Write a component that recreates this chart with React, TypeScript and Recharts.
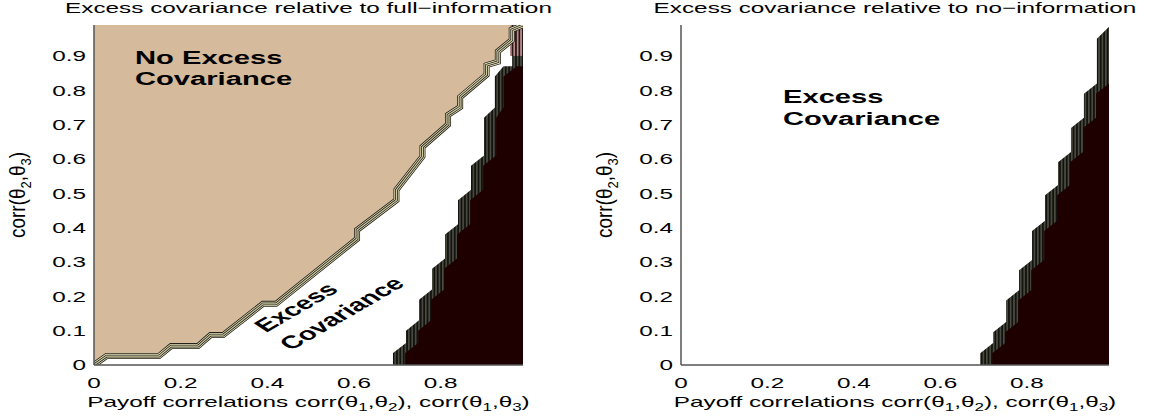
import React from 'react';
import { ComposedChart, Area, Line, XAxis, YAxis } from 'recharts';

const SX = 1.62;
const FONT = '"Liberation Sans", Arial, Helvetica, sans-serif';

const X_TICKS = [0, 0.2, 0.4, 0.6, 0.8];
const Y_TICKS = [0, 0.1, 0.2, 0.3, 0.4, 0.5, 0.6, 0.7, 0.8, 0.9];
const DOMAIN: [number, number] = [0, 0.99];

const TITLE_FULL = 'Excess covariance relative to full\u2212information';
const TITLE_NO = 'Excess covariance relative to no\u2212information';

// No-excess (tan) region spans the plot; the white excess region lies below its boundary
const TAN_TOP = [[0, 0.99], [0.99, 0.99]];
const FULL_BOUNDARY = [
  [0, 0], [0.029, 0.026], [0.15, 0.026], [0.178, 0.055], [0.24, 0.055], [0.269, 0.087],
  [0.298, 0.087], [0.39, 0.178], [0.42, 0.178], [0.607, 0.367], [0.607, 0.393],
  [0.698, 0.48], [0.698, 0.51], [0.758, 0.607], [0.758, 0.635], [0.817, 0.7],
  [0.817, 0.728], [0.845, 0.751], [0.845, 0.78], [0.906, 0.845], [0.906, 0.873],
  [0.932, 0.883], [0.932, 0.913], [0.964, 0.946], [0.964, 0.976], [0.99, 0.99],
];
const FULL_DARK_OUTER = [
  [0.69, 0], [0.69, 0.035], [0.72, 0.064], [0.72, 0.1], [0.75, 0.13], [0.75, 0.19],
  [0.78, 0.22], [0.78, 0.28], [0.81, 0.31], [0.81, 0.38], [0.84, 0.41], [0.84, 0.48],
  [0.87, 0.51], [0.87, 0.58], [0.9, 0.61], [0.9, 0.72], [0.925, 0.75], [0.925, 0.84],
  [0.945, 0.87], [0.965, 0.87], [0.965, 0.99], [0.99, 0.99],
];
const FULL_DARK_INNER = [
  [0.718, 0], [0.718, 0.035], [0.748, 0.064], [0.748, 0.1], [0.778, 0.13], [0.778, 0.19],
  [0.808, 0.22], [0.808, 0.28], [0.838, 0.31], [0.838, 0.38], [0.868, 0.41], [0.868, 0.48],
  [0.898, 0.51], [0.898, 0.58], [0.928, 0.61], [0.928, 0.72], [0.945, 0.75], [0.945, 0.84],
  [0.976, 0.87], [0.99, 0.87],
];
const FULL_PINK = [[0.96, 0.9, 0.99], [0.99, 0.9, 0.99]];

const NO_DARK_OUTER = [
  [0.692, 0], [0.692, 0.034], [0.722, 0.064], [0.722, 0.095], [0.752, 0.125], [0.752, 0.188],
  [0.782, 0.218], [0.782, 0.276], [0.812, 0.306], [0.812, 0.39], [0.842, 0.42], [0.842, 0.494],
  [0.872, 0.524], [0.872, 0.59], [0.902, 0.62], [0.902, 0.69], [0.932, 0.72], [0.932, 0.79],
  [0.962, 0.82], [0.962, 0.95], [0.99, 0.985],
];
const NO_DARK_INNER = [
  [0.72, 0], [0.72, 0.034], [0.75, 0.064], [0.75, 0.095], [0.78, 0.125], [0.78, 0.188],
  [0.81, 0.218], [0.81, 0.276], [0.84, 0.306], [0.84, 0.39], [0.87, 0.42], [0.87, 0.494],
  [0.9, 0.524], [0.9, 0.59], [0.93, 0.62], [0.93, 0.69], [0.96, 0.72], [0.96, 0.79],
  [0.99, 0.82],
];

const TAN = '#d5ba9b';
const MAROON = '#1f0000';
const AXIS = '#555555';

const rows = (pts: number[][]) => pts.map(([x, y]) => ({ x, y }));
const rangeRows = (pts: number[][]) => pts.map(([x, lo, hi]) => ({ x, y: [lo, hi] }));

const fmt = (v: number) => (v === 0 ? '0' : v.toFixed(1));

const XTick = (p: any) => (
  <g transform={`translate(${p.x},${p.y}) scale(${SX},1)`}>
    <text x={0} y={0} dy="0.71em" textAnchor="middle" fontSize={15} fontFamily={FONT} fill="#000">
      {fmt(p.payload.value)}
    </text>
  </g>
);
const YTick = (p: any) => (
  <g transform={`translate(${p.x},${p.y}) scale(${SX},1)`}>
    <text x={0} y={0} dy="0.36em" textAnchor="end" fontSize={15} fontFamily={FONT} fill="#000">
      {fmt(p.payload.value)}
    </text>
  </g>
);

const axisLine = { stroke: AXIS, strokeWidth: 1.5 };

const XLabel = ({ cx }: { cx: number }) => (
  <text transform={`translate(${cx},407) scale(${SX},1)`} textAnchor="middle" fontSize={15} fontFamily={FONT} fill="#000">
    <tspan>Payoff correlations corr(θ</tspan>
    <tspan fontSize={10.5} dy={4}>1</tspan>
    <tspan dy={-4}>,θ</tspan>
    <tspan fontSize={10.5} dy={4}>2</tspan>
    <tspan dy={-4}>), corr(θ</tspan>
    <tspan fontSize={10.5} dy={4}>1</tspan>
    <tspan dy={-4}>,θ</tspan>
    <tspan fontSize={10.5} dy={4}>3</tspan>
    <tspan dy={-4}>)</tspan>
  </text>
);

const YLabel = ({ x }: { x: number }) => (
  <text transform={`translate(${x},195) scale(1.15,1) rotate(-90)`} textAnchor="middle" fontSize={19} fontFamily={FONT} fill="#000">
    <tspan>corr(θ</tspan>
    <tspan fontSize={13} dy={5}>2</tspan>
    <tspan dy={-5}>,θ</tspan>
    <tspan fontSize={13} dy={5}>3</tspan>
    <tspan dy={-5}>)</tspan>
  </text>
);

const BoldText = ({ x, y, rot = 0, children }: any) => (
  <text
    transform={`translate(${x},${y}) scale(${SX},1) rotate(${rot})`}
    fontSize={18}
    fontWeight="bold"
    fontFamily={FONT}
    fill="#000"
  >
    {children}
  </text>
);

export default function App() {
  const tanTop = rows(TAN_TOP);
  const fullBoundary = rows(FULL_BOUNDARY);
  const fullOuter = rows(FULL_DARK_OUTER);
  const fullInner = rows(FULL_DARK_INNER);
  const fullPink = rangeRows(FULL_PINK);
  const noOuter = rows(NO_DARK_OUTER);
  const noInner = rows(NO_DARK_INNER);

  return (
    <div style={{ position: 'absolute', left: 0, top: 0, width: 1156, height: 417, background: '#fff', overflow: 'hidden' }}>
      <svg width={1156} height={417} style={{ position: 'absolute', left: 0, top: 0 }}>
        <defs>
          <pattern id="darkBand" patternUnits="userSpaceOnUse" width="3.4" height="8">
            <rect width="3.4" height="8" fill="#121210" />
            <rect width="1.6" height="8" fill="#4c4c40" />
          </pattern>
          <pattern id="pinkBand" patternUnits="userSpaceOnUse" width="3.4" height="8">
            <rect width="3.4" height="8" fill="#2a1515" />
            <rect width="1.7" height="8" fill="#b68e8e" />
          </pattern>
        </defs>
      </svg>

      <div style={{ position: 'absolute', left: 0, top: 0 }}>
        <ComposedChart width={578} height={417} margin={{ top: 25, right: 55, bottom: 0, left: 0 }}>
          <Area data={tanTop} dataKey="y" type="linear" fill={TAN} fillOpacity={1} stroke="none" isAnimationActive={false} />
          <Area data={fullBoundary} dataKey="y" type="linear" fill="#ffffff" fillOpacity={1} stroke="none" isAnimationActive={false} />
          <Line data={fullBoundary} dataKey="y" type="linear" stroke="#23231c" strokeWidth={6} dot={false} isAnimationActive={false} />
          <Line data={fullBoundary} dataKey="y" type="linear" stroke="#ece7c0" strokeWidth={4.4} dot={false} isAnimationActive={false} />
          <Line data={fullBoundary} dataKey="y" type="linear" stroke="#23231c" strokeWidth={2.8} dot={false} isAnimationActive={false} />
          <Line data={fullBoundary} dataKey="y" type="linear" stroke="#cfc9a0" strokeWidth={1.2} dot={false} isAnimationActive={false} />
          <Area data={fullOuter} dataKey="y" type="linear" fill="url(#darkBand)" fillOpacity={1} stroke="none" isAnimationActive={false} />
          <Area data={fullInner} dataKey="y" type="linear" fill={MAROON} fillOpacity={1} stroke="none" isAnimationActive={false} />
          <Area data={fullPink} dataKey="y" type="linear" fill="url(#pinkBand)" fillOpacity={1} stroke="none" isAnimationActive={false} />
          <XAxis type="number" dataKey="x" domain={DOMAIN} ticks={X_TICKS} tick={XTick} tickLine={false} tickSize={0} tickMargin={12} height={52} axisLine={axisLine} allowDataOverflow />
          <YAxis type="number" domain={DOMAIN} ticks={Y_TICKS} tick={YTick} tickLine={false} tickSize={0} tickMargin={8} width={94} axisLine={axisLine} allowDataOverflow />
          <XAxis xAxisId="top" orientation="top" type="number" dataKey="x" domain={DOMAIN} tick={false} tickLine={false} height={0} axisLine={axisLine} allowDataOverflow />
          <YAxis yAxisId="right" orientation="right" type="number" domain={DOMAIN} tick={false} tickLine={false} width={0} axisLine={axisLine} allowDataOverflow />
        </ComposedChart>
      </div>

      <div style={{ position: 'absolute', left: 578, top: 0 }}>
        <ComposedChart width={578} height={417} margin={{ top: 25, right: 47, bottom: 0, left: 0 }}>
          <Area data={noOuter} dataKey="y" type="linear" fill="url(#darkBand)" fillOpacity={1} stroke="none" isAnimationActive={false} />
          <Area data={noInner} dataKey="y" type="linear" fill={MAROON} fillOpacity={1} stroke="none" isAnimationActive={false} />
          <XAxis type="number" dataKey="x" domain={DOMAIN} ticks={X_TICKS} tick={XTick} tickLine={false} tickSize={0} tickMargin={12} height={52} axisLine={axisLine} allowDataOverflow />
          <YAxis type="number" domain={DOMAIN} ticks={Y_TICKS} tick={YTick} tickLine={false} tickSize={0} tickMargin={8} width={103} axisLine={axisLine} allowDataOverflow />
          <XAxis xAxisId="top" orientation="top" type="number" dataKey="x" domain={DOMAIN} tick={false} tickLine={false} height={0} axisLine={axisLine} allowDataOverflow />
          <YAxis yAxisId="right" orientation="right" type="number" domain={DOMAIN} tick={false} tickLine={false} width={0} axisLine={axisLine} allowDataOverflow />
        </ComposedChart>
      </div>

      <svg width={1156} height={417} style={{ position: 'absolute', left: 0, top: 0, pointerEvents: 'none' }}>
        <text transform={`translate(308.5,12.5) scale(${SX},1)`} textAnchor="middle" fontSize={15} fontFamily={FONT} fill="#000">{TITLE_FULL}</text>
        <text transform={`translate(895,12.5) scale(${SX},1)`} textAnchor="middle" fontSize={15} fontFamily={FONT} fill="#000">{TITLE_NO}</text>
        <XLabel cx={308.5} />
        <XLabel cx={895} />
        <YLabel x={25} />
        <YLabel x={612} />
        <BoldText x={135} y={63.5}>No Excess</BoldText>
        <BoldText x={135} y={84.5}>Covariance</BoldText>
        <BoldText x={266} y={333} rot={-43}>Excess</BoldText>
        <BoldText x={291} y={351} rot={-43}>Covariance</BoldText>
        <BoldText x={783} y={102.7}>Excess</BoldText>
        <BoldText x={783} y={124.5}>Covariance</BoldText>
      </svg>
    </div>
  );
}
